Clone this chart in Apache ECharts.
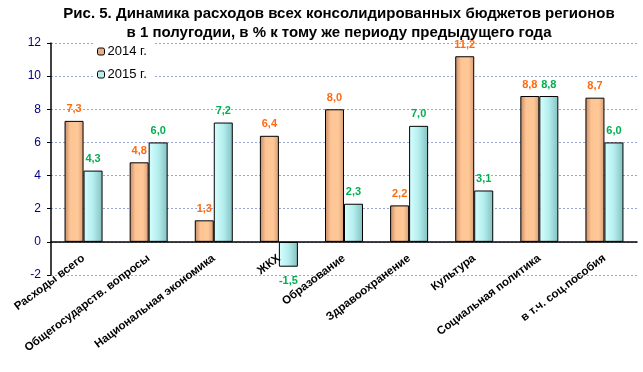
<!DOCTYPE html>
<html><head><meta charset="utf-8">
<script src="https://cdn.jsdelivr.net/npm/echarts@6/dist/echarts.min.js"></script>
<style>html,body{margin:0;padding:0;background:#fff}#c{width:643px;height:372px}</style>
</head><body><div id="c"></div>
<script>
const categories = ["Расходы всего","Общегосударств. вопросы","Национальная экономика","ЖКХ","Образование","Здравоохранение","Культура","Социальная политика","в т.ч. соц.пособия"];
const values2014 = [7.3, 4.8, 1.3, 6.4, 8.0, 2.2, 11.2, 8.8, 8.7];
const values2015 = [4.3, 6.0, 7.2, -1.5, 2.3, 7.0, 3.1, 8.8, 6.0];
const yTicks = {min: -2, max: 12, interval: 2};
const titleText = "Рис. 5. Динамика расходов всех консолидированных бюджетов регионов\nв 1 полугодии, в % к тому же периоду предыдущего года";

const fmt = p => p.value.toFixed(1).replace('.', ',');
const orangeFill = {type:'linear',x:0,y:0,x2:1,y2:0,colorStops:[
  {offset:0,color:'#c08a66'},{offset:0.3,color:'#ffc494'},{offset:0.7,color:'#ffc898'},{offset:1,color:'#d89c74'}]};
const cyanFill = {type:'linear',x:0,y:0,x2:1,y2:0,colorStops:[
  {offset:0,color:'#d8ffff'},{offset:0.5,color:'#b4eeee'},{offset:1,color:'#84c0c0'}]};

function mk(vals){
  return vals.map(v => v < 0 ? {value:v, label:{position:'bottom', distance:9}} : {value:v});
}

const chart = echarts.init(document.getElementById('c'));
chart.setOption({
  animation:false,
  title:{text:titleText, left:334, textAlign:'center', top:-1,
    textStyle:{fontFamily:'Liberation Sans Narrow, Arial', fontWeight:'bold', fontSize:15, lineHeight:19, color:'#000'}},
  legend:{orient:'vertical', left:93, top:43, itemWidth:7, itemHeight:7, itemGap:10,
    backgroundColor:'#fff', padding:[2,8,2,4],
    textStyle:{fontFamily:'Liberation Sans, Arial', fontSize:13, color:'#000', padding:[0,0,0,-2]},
    data:[{name:'2014 г.', itemStyle:{color:'#e8b088', borderColor:'#000', borderWidth:1}},
          {name:'2015 г.', itemStyle:{color:'#b8eeee', borderColor:'#000', borderWidth:1}}]},
  grid:{left:51, right:6, top:43, bottom:97, outerBoundsMode:'none', containLabel:false},
  xAxis:{type:'category', data:categories, z:5,
    axisLine:{onZero:true, lineStyle:{color:'#000', width:1.5}},
    axisTick:{show:false},
    axisLabel:{rotate:37, interval:0, margin:-18,
      fontFamily:'Liberation Sans, Arial', fontWeight:'bold', fontSize:11.5, color:'#000'}},
  yAxis:{type:'value', min:yTicks.min, max:yTicks.max, interval:yTicks.interval,
    axisLine:{show:true, lineStyle:{color:'#000', width:1.5}},
    axisTick:{show:true, length:4, lineStyle:{color:'#000'}},
    axisLabel:{fontFamily:'Liberation Sans, Arial', fontSize:12, color:'#000080', margin:10},
    splitLine:{lineStyle:{color:'#9aa6d8', type:[2,2], width:1}}},
  series:[
    {name:'2014 г.', type:'bar', data:mk(values2014), barWidth:19, barGap:'0%',
      itemStyle:{color:orangeFill, borderColor:'#000', borderWidth:1},
      label:{show:true, position:'top', distance:6, formatter:fmt,
        fontFamily:'Liberation Sans, Arial', fontWeight:'bold', fontSize:11, color:'#ff6a10'}},
    {name:'2015 г.', type:'bar', data:mk(values2015), barWidth:19, barGap:'0%',
      itemStyle:{color:cyanFill, borderColor:'#000', borderWidth:1},
      label:{show:true, position:'top', distance:6, formatter:fmt,
        fontFamily:'Liberation Sans, Arial', fontWeight:'bold', fontSize:11, color:'#00b050'}}
  ]
});
</script></body></html>
